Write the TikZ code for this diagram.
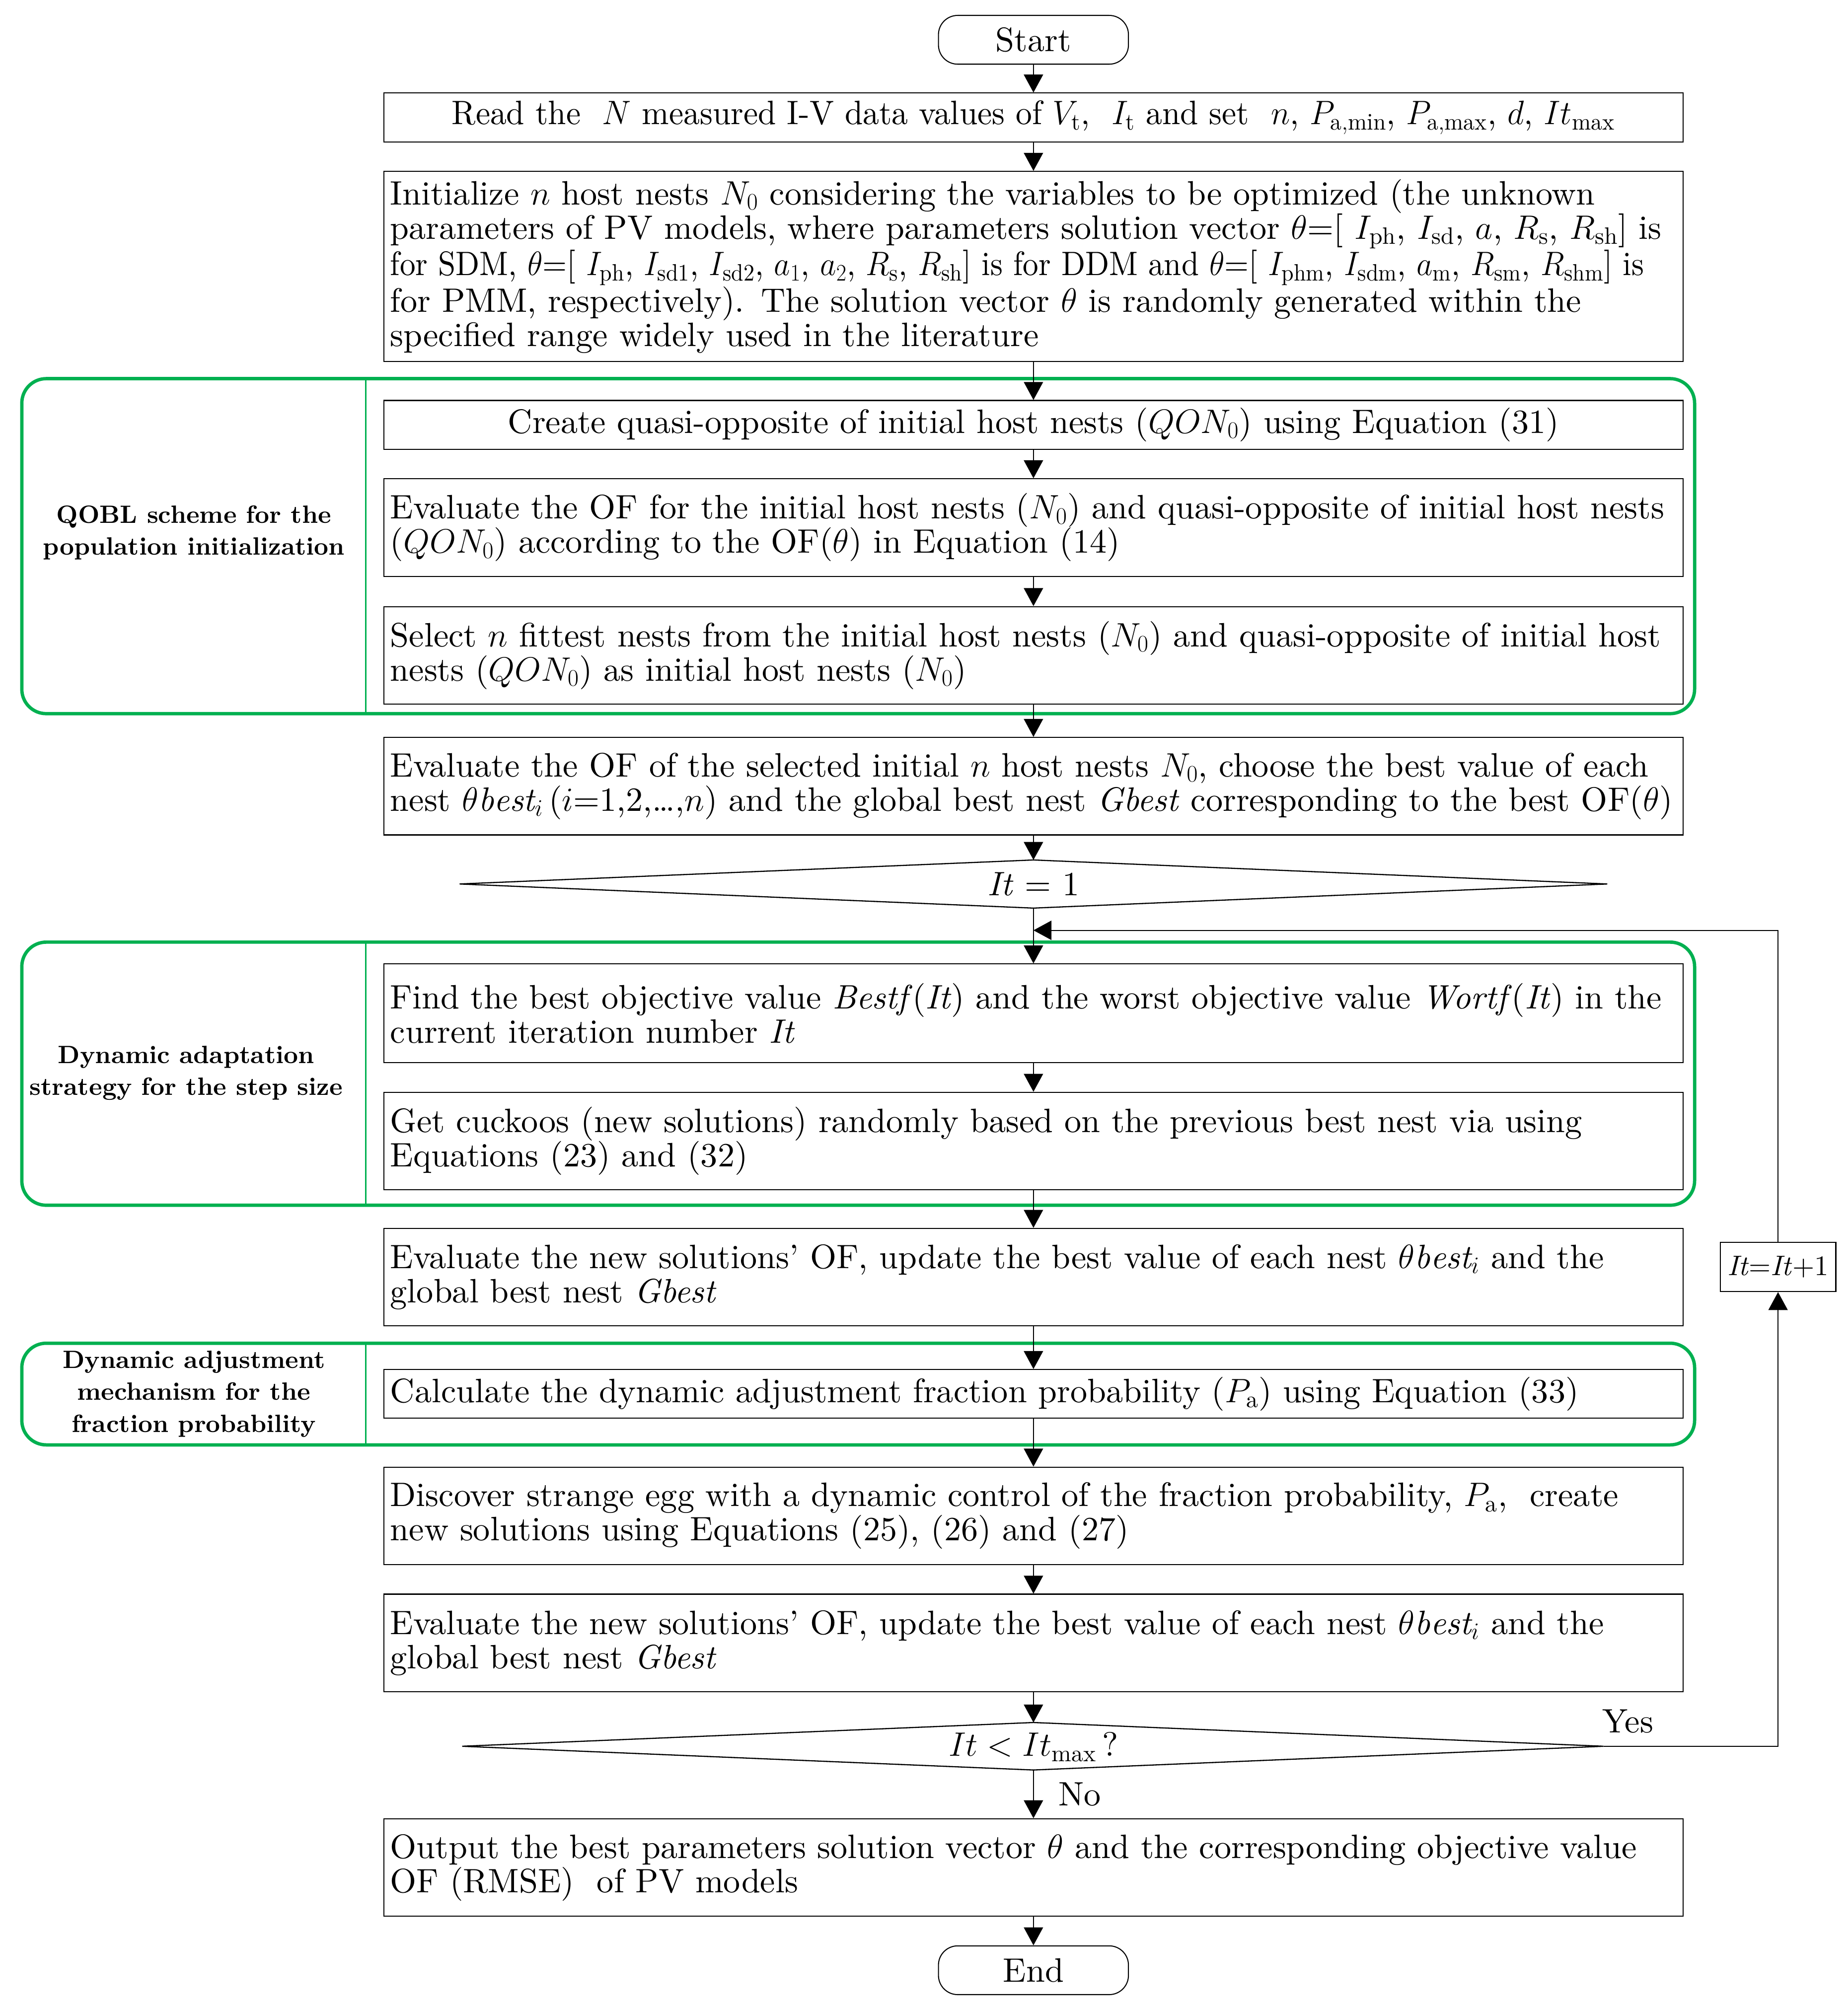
\RequirePackage{fix-cm}
\documentclass[tikz,border=0pt]{standalone}
\usepackage{fontspec}
\setmainfont{lmroman10}[Extension=.otf, UprightFont=*-regular, BoldFont=*-bold, ItalicFont=*-italic, BoldItalicFont=*-bolditalic]
\usetikzlibrary{arrows.meta,calc}
\definecolor{grn}{RGB}{0,176,80}
\newcommand{\bodyfont}{\fontsize{26.4}{26.7}\selectfont}
\newcommand{\labfont}{\fontsize{19.5}{25}\selectfont\bfseries}
\newcommand{\incfont}{\fontsize{22}{24}\selectfont}
\begin{document}
\begin{tikzpicture}[x=1pt,y=-1pt,
  box/.style={draw,line width=0.8pt,minimum width=1012pt,text width=1002pt,inner xsep=5pt,inner ysep=0pt,align=left,font=\bodyfont},
  cbox/.style={box,align=center},
  term/.style={draw,line width=0.8pt,rounded corners=15pt,minimum width=148pt,minimum height=38pt,inner sep=0pt,font=\bodyfont},
  grp/.style={draw=grn,line width=2.6pt,rounded corners=19pt},
  sep/.style={draw=grn,line width=1pt},
  arr/.style={-{Triangle[length=14pt,width=15pt]},line width=0.8pt},
  lab/.style={font=\labfont,align=center,inner sep=0pt},
  dia/.style={draw,line width=0.9pt},
  plain/.style={font=\bodyfont,inner sep=0pt}]

\fill[white] (0,0) rectangle (1439.5,1566);
\useasboundingbox (0,0) rectangle (1439.5,1566);

% green groups
\draw[grp] (17,295) rectangle (1320,556);
\draw[sep] (285,296) -- (285,555);
\draw[grp] (17,734) rectangle (1320,939);
\draw[sep] (285,735) -- (285,938);
\draw[grp] (17,1046.5) rectangle (1320,1125.7);
\draw[sep] (285,1047.5) -- (285,1124.7);

\node[lab] (lq) at (151,415) {QOBL scheme for the\\population initialization};
\node[lab] (ld) at (145,836) {Dynamic adaptation\\strategy for the step size};
\node[lab] (lj) at (151,1086) {Dynamic adjustment\\mechanism for the\\fraction probability};

% nodes
\node[term] (start) at (805,31) {Start};
\node[cbox,minimum height=38pt] (read) at (805,91.5) {\scalebox{0.96}[1]{Read the \ $N$ measured I-V data values of $V_{\mathrm{t}}$, \ $I_{\mathrm{t}}$ and set \ $n$, $P_{\mathrm{a,min}}$, $P_{\mathrm{a,max}}$, $d$, $It_{\mathrm{max}}$}};
\node[box,minimum height=148pt] (init) at (805,207.5) {\mbox{Initialize $n$ host nests $N_0$ considering the variables to be optimized (the unknown}\\\mbox{parameters of PV models, where parameters solution vector $\theta$=[ $I_{\mathrm{ph}}$, $I_{\mathrm{sd}}$, $a$, $R_{\mathrm{s}}$, $R_{\mathrm{sh}}$] is}\\\scalebox{0.925}[1]{for SDM, $\theta$=[ $I_{\mathrm{ph}}$, $I_{\mathrm{sd1}}$, $I_{\mathrm{sd2}}$, $a_1$, $a_2$, $R_{\mathrm{s}}$, $R_{\mathrm{sh}}$] is for DDM and $\theta$=[ $I_{\mathrm{phm}}$, $I_{\mathrm{sdm}}$, $a_{\mathrm{m}}$, $R_{\mathrm{sm}}$, $R_{\mathrm{shm}}$] is}\\\mbox{for PMM, respectively). The solution vector $\theta$ is randomly generated within the}\\\mbox{specified range widely used in the literature}};
\node[cbox,minimum height=38pt] (create) at (805,331) {\mbox{Create quasi-opposite of initial host nests ($QON_0$) using Equation (31)}};
\node[box,minimum height=76pt] (evalq) at (805,411) {\mbox{Evaluate the OF for the initial host nests ($N_0$) and quasi-opposite of initial host nests}\\\mbox{($QON_0$) according to the OF($\theta$) in Equation (14)}};
\node[box,minimum height=76pt] (select) at (805,510.6) {\mbox{Select $n$ fittest nests from the initial host nests ($N_0$) and quasi-opposite of initial host}\\\mbox{nests ($QON_0$) as initial host nests ($N_0$)}};
\node[box,minimum height=76pt] (evalsel) at (805,612.5) {\mbox{Evaluate the OF of the selected initial $n$ host nests $N_0$, choose the best value of each}\\\mbox{nest $\theta\mathit{best}_i$\,($i$=1,2,…,$n$) and the global best nest \textit{Gbest} corresponding to the best OF($\theta$)}};

\node[plain] (it1) at (805,688.7) {\textit{It} = 1};
\coordinate (it1n) at (805,670);
\coordinate (it1s) at (805,707.5);
\coordinate (it1w) at (358,688.7);
\coordinate (it1e) at (1252,688.7);
\draw[dia] (it1n) -- (it1e) -- (it1s) -- (it1w) -- cycle;

\node[box,minimum height=77pt] (find) at (805,789.5) {\mbox{Find the best objective value \textit{Bestf}(\textit{It}) and the worst objective value \textit{Wortf}(\textit{It}) in the}\\\mbox{current iteration number \textit{It}}};
\node[box,minimum height=76pt] (get) at (805,889) {\mbox{Get cuckoos (new solutions) randomly based on the previous best nest via using}\\\mbox{Equations (23) and (32)}};
\node[box,minimum height=76pt] (evalnew) at (805,995) {\mbox{Evaluate the new solutions’ OF, update the best value of each nest $\theta\mathit{best}_i$ and the}\\\mbox{global best nest \textit{Gbest}}};
\node[box,minimum height=38pt] (calc) at (805,1086) {\mbox{Calculate the dynamic adjustment fraction probability ($P_{\mathrm{a}}$) using Equation (33)}};
\node[box,minimum height=76pt] (disc) at (805,1181) {\mbox{Discover strange egg with a dynamic control of the fraction probability, $P_{\mathrm{a}}$, \ create}\\\mbox{new solutions using Equations (25), (26) and (27)}};
\node[box,minimum height=76pt] (evalnew2) at (805,1280) {\mbox{Evaluate the new solutions’ OF, update the best value of each nest $\theta\mathit{best}_i$ and the}\\\mbox{global best nest \textit{Gbest}}};

\node[plain] (itm) at (805,1361) {$It < It_{\mathrm{max}}$\,?};
\coordinate (itmn) at (805,1342);
\coordinate (itms) at (805,1379);
\coordinate (itmw) at (360,1360.5);
\coordinate (itme) at (1249,1360.5);
\draw[dia] (itmn) -- (itme) -- (itms) -- (itmw) -- cycle;

\node[box,minimum height=76pt] (out) at (805,1455) {\mbox{Output the best parameters solution vector $\theta$ and the corresponding objective value}\\\mbox{OF (RMSE) \ of PV models}};
\node[term] (end) at (805,1535) {End};

\node[draw,line width=0.8pt,minimum width=90pt,minimum height=38.5pt,inner sep=0pt,font=\incfont] (inc) at (1385,987) {\textit{It}=\textit{It}+1};
\coordinate (loop) at (805,724.8);

\node[plain] (yes) at (1268,1341) {Yes};

% connectors
\draw[arr] (start.south) -- (read.north);
\draw[arr] (read.south) -- (init.north);
\draw[arr] (init.south) -- (create.north);
\draw[arr] (create.south) -- (evalq.north);
\draw[arr] (evalq.south) -- (select.north);
\draw[arr] (select.south) -- (evalsel.north);
\draw[arr] (evalsel.south) -- (it1n);
\draw[arr] (it1s) -- (find.north);
\draw[arr] (find.south) -- (get.north);
\draw[arr] (get.south) -- (evalnew.north);
\draw[arr] (evalnew.south) -- (calc.north);
\draw[arr] (calc.south) -- (disc.north);
\draw[arr] (disc.south) -- (evalnew2.north);
\draw[arr] (evalnew2.south) -- (itmn);
\draw[arr] (itms) -- node[plain,midway,anchor=west,xshift=19pt] (no) {No} (out.north);
\draw[arr] (out.south) -- (end.north);
\draw[arr] (itme) -- (itme -| inc.south) -- (inc.south);
\draw[arr] (inc.north) -- (inc.north |- loop) -- (loop);
\end{tikzpicture}
\end{document}
